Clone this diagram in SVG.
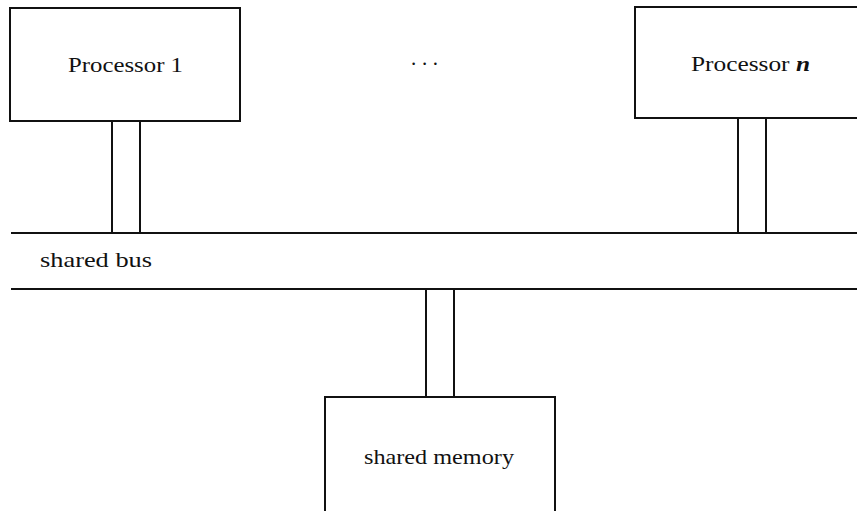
<svg xmlns="http://www.w3.org/2000/svg" width="857" height="511" viewBox="0 0 857 511">
<style>
.box{fill:#fff;stroke:#111;stroke-width:2}
.ln{stroke:#111;stroke-width:2;fill:none}
.t{font-family:"Liberation Serif","DejaVu Serif",serif;font-size:21px;fill:#111}
</style>
<rect width="857" height="511" fill="#fff"/>
<g id="connectors">
<line class="ln" x1="112" y1="121" x2="112" y2="233"/>
<line class="ln" x1="140" y1="121" x2="140" y2="233"/>
<line class="ln" x1="738" y1="118" x2="738" y2="233"/>
<line class="ln" x1="766" y1="118" x2="766" y2="233"/>
<line class="ln" x1="426" y1="289" x2="426" y2="397"/>
<line class="ln" x1="454" y1="289" x2="454" y2="397"/>
</g>
<g id="bus">
<line class="ln" x1="11" y1="233" x2="857" y2="233"/>
<line class="ln" x1="11" y1="289" x2="857" y2="289"/>
<text class="t" x="40" y="267" textLength="112" lengthAdjust="spacingAndGlyphs">shared bus</text>
</g>
<g id="processor1">
<rect class="box" x="10" y="8" width="230" height="113"/>
<text class="t" x="68" y="72" textLength="115" lengthAdjust="spacingAndGlyphs">Processor 1</text>
</g>
<g id="dots">
<text class="t" x="411" y="65" textLength="27" lengthAdjust="spacing">...</text>
</g>
<g id="processorn">
<rect class="box" x="635" y="7" width="240" height="111"/>
<text class="t" x="691" y="71" textLength="119" lengthAdjust="spacingAndGlyphs">Processor <tspan font-style="italic" font-weight="bold">n</tspan></text>
</g>
<g id="memory">
<rect class="box" x="325" y="397" width="230" height="130"/>
<text class="t" x="364" y="464" textLength="150" lengthAdjust="spacingAndGlyphs">shared memory</text>
</g>
</svg>
